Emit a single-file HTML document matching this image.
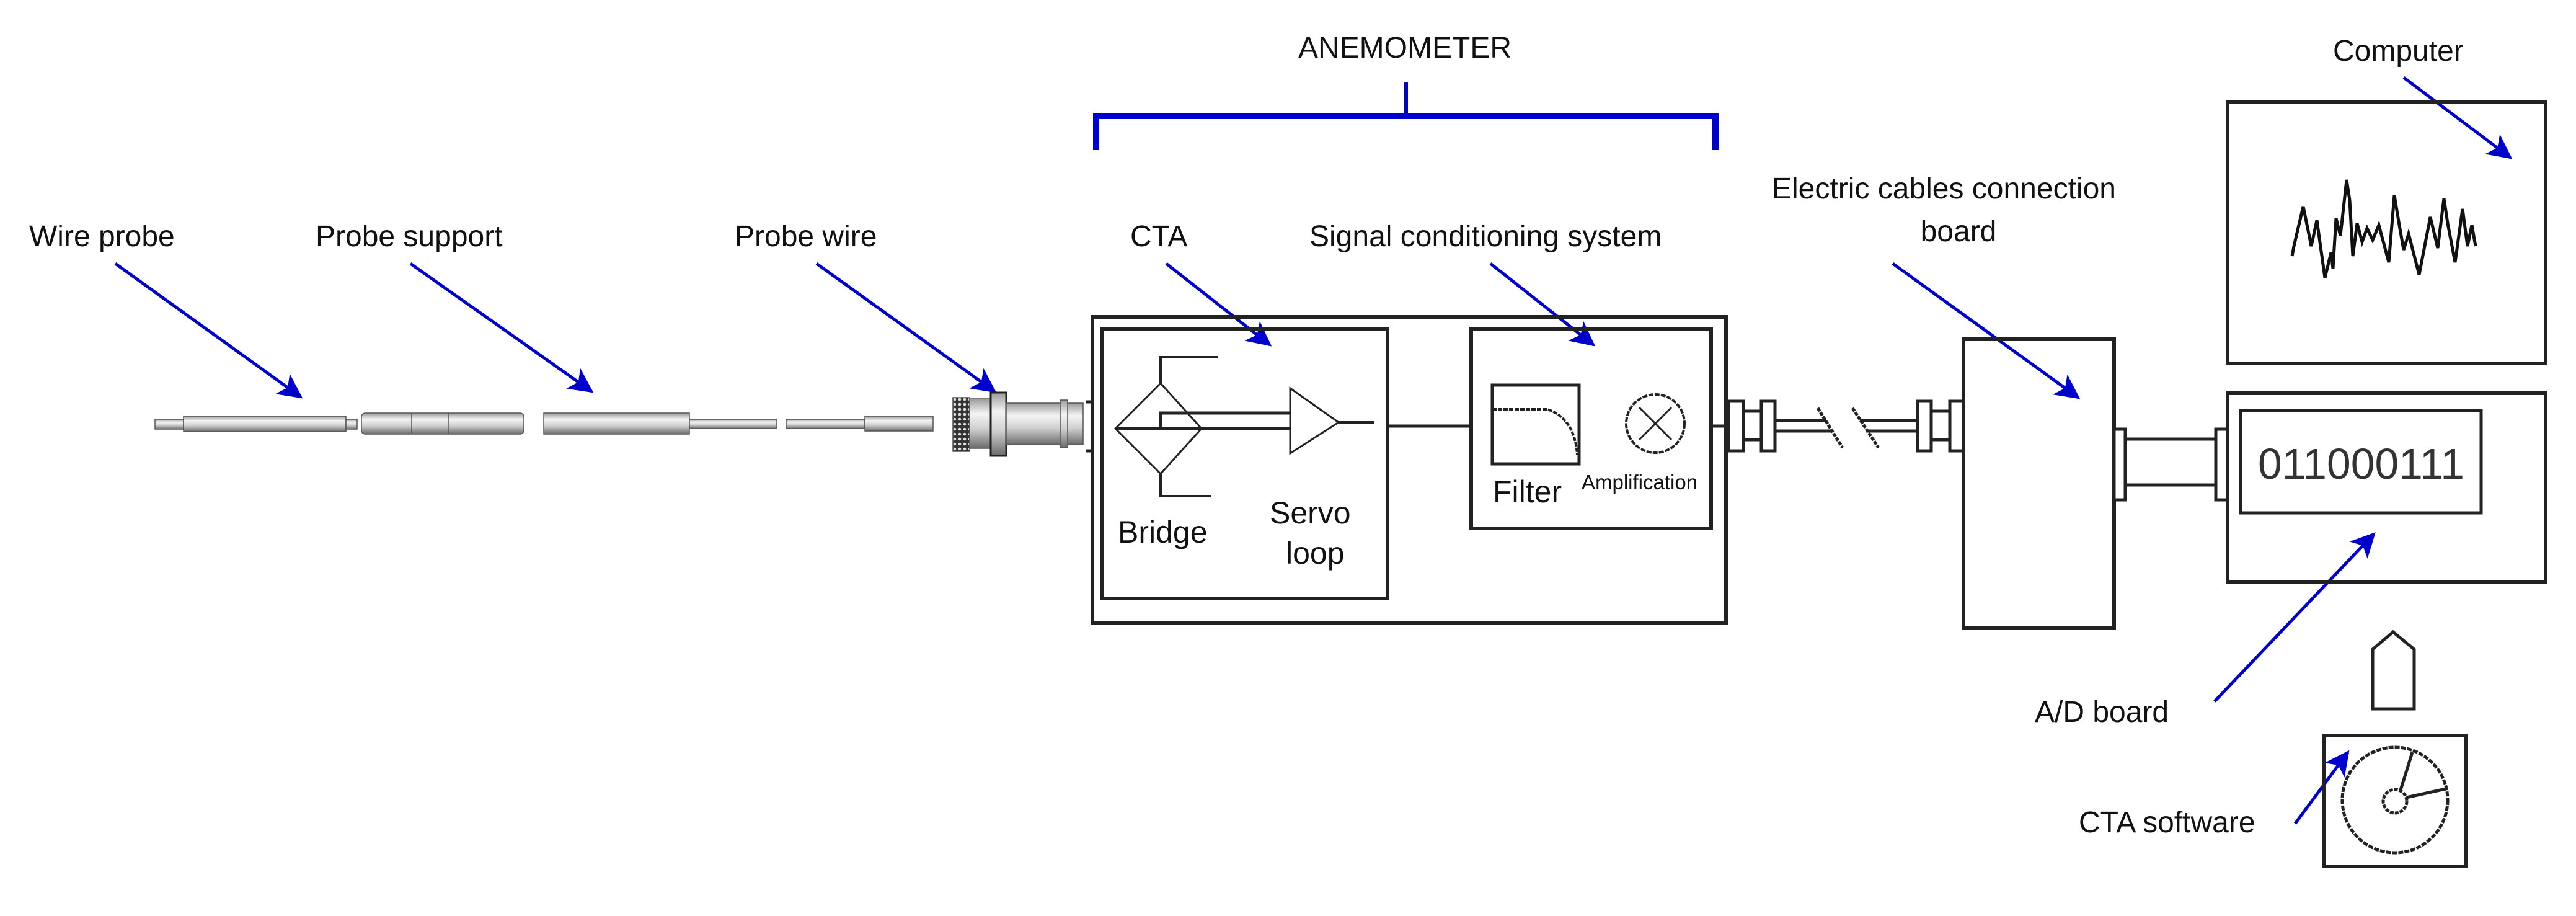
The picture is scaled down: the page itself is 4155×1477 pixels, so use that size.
<!DOCTYPE html>
<html><head><meta charset="utf-8"><style>
html,body{margin:0;padding:0;background:#fff;}
svg{display:block;}
text{font-family:"Liberation Sans",Arial,sans-serif;fill:#111;}
</style></head><body>
<svg width="4155" height="1477" viewBox="0 0 4155 1477" xmlns="http://www.w3.org/2000/svg">
<defs>
<linearGradient id="g" x1="0" y1="0" x2="0" y2="1">
<stop offset="0" stop-color="#9a9a9a"/><stop offset="0.3" stop-color="#f4f4f4"/><stop offset="0.6" stop-color="#d0d0d0"/><stop offset="1" stop-color="#6a6a6a"/>
</linearGradient>
<pattern id="kn" width="8" height="8" patternUnits="userSpaceOnUse"><rect width="8" height="8" fill="#333"/><circle cx="4" cy="4" r="2.3" fill="#ddd"/></pattern>
<marker id="ah" viewBox="0 0 10 10" refX="9" refY="5" markerWidth="8" markerHeight="8" markerUnits="strokeWidth" orient="auto"><path d="M0,0 L10,5 L0,10 L2.5,5 z" fill="#0000cc"/></marker>
</defs>
<rect width="4155" height="1477" fill="#fff"/>

<g font-size="48">
<text x="47" y="397">Wire probe</text>
<text x="509" y="397">Probe support</text>
<text x="1185" y="397">Probe wire</text>
<text x="1823" y="397">CTA</text>
<text x="2112" y="397">Signal conditioning system</text>
<text x="2858" y="320">Electric cables connection</text>
<text x="3159" y="389" text-anchor="middle">board</text>
<text x="2266" y="93" text-anchor="middle">ANEMOMETER</text>
<text x="3763" y="98">Computer</text>
<text x="3282" y="1164">A/D board</text>
<text x="3353" y="1342">CTA software</text>
</g>

<g stroke="#0000cc" fill="none">
<path d="M1768,242 V187 H2767 V242" stroke-width="10"/>
<line x1="2268" y1="132" x2="2268" y2="187" stroke-width="6"/>
</g>

<g stroke="#0000cc" stroke-width="5" fill="none" marker-end="url(#ah)">
<line x1="186" y1="425" x2="485" y2="640"/>
<line x1="662" y1="425" x2="954" y2="631"/>
<line x1="1317" y1="425" x2="1604" y2="631"/>
<line x1="1881" y1="425" x2="2048" y2="556"/>
<line x1="2404" y1="425" x2="2570" y2="556"/>
<line x1="3053" y1="425" x2="3352" y2="641"/>
<line x1="3877" y1="125" x2="4049" y2="254"/>
<line x1="3572" y1="1131" x2="3829" y2="861"/>
<line x1="3702" y1="1328" x2="3787" y2="1213"/>
</g>

<g stroke="#555" stroke-width="1.5">
<rect x="250" y="676" width="46" height="16" fill="url(#g)"/>
<rect x="296" y="671" width="262" height="25" fill="url(#g)"/>
<rect x="558" y="676" width="18" height="16" fill="url(#g)"/>
<rect x="583" y="666" width="262" height="34" rx="6" fill="url(#g)"/>
<line x1="664" y1="666" x2="664" y2="700"/><line x1="724" y1="666" x2="724" y2="700"/>
<rect x="877" y="666" width="235" height="34" fill="url(#g)"/>
<rect x="1112" y="676" width="141" height="15" fill="url(#g)"/>
<rect x="1268" y="676" width="127" height="15" fill="url(#g)"/>
<rect x="1395" y="671" width="110" height="24" fill="url(#g)"/>
<rect x="1537" y="641" width="27" height="87" fill="url(#kn)"/>
<rect x="1564" y="643" width="34" height="80" fill="url(#g)"/>
<rect x="1598" y="633" width="25" height="102" fill="url(#g)" stroke="#222" stroke-width="3"/>
<rect x="1623" y="650" width="124" height="67" fill="url(#g)"/>
<rect x="1710" y="645" width="12" height="77" fill="url(#g)"/>
</g>
<g stroke="#222" stroke-width="5"><line x1="1752" y1="648" x2="1763" y2="648"/><line x1="1752" y1="727" x2="1763" y2="727"/></g>

<g stroke="#222" stroke-width="6" fill="none">
<rect x="1762" y="511" width="1022" height="493"/>
<rect x="1777" y="530" width="461" height="435"/>
<rect x="2373" y="530" width="387" height="322"/>
<rect x="2407" y="621" width="140" height="127" stroke-width="5"/>
<line x1="2238" y1="687" x2="2373" y2="687" stroke-width="5"/>
<line x1="2760" y1="687" x2="2784" y2="687" stroke-width="5"/>
</g>
<g stroke="#222" stroke-width="4" fill="none">
<path d="M1872,618 L1938,691 L1872,764 L1799,691 Z" stroke-width="3"/>
<path d="M1872,618 V576 H1964"/>
<path d="M1872,764 V800 H1953"/>
<path d="M1799,691 H1872 V666 H2081" stroke-width="5"/>
<path d="M1872,691 H2081" stroke-width="5"/>
<path d="M2081,626 L2159,681 L2081,731 Z" stroke-width="3"/>
<line x1="2159" y1="681" x2="2217" y2="681"/>
<path d="M2407,660 H2496 Q2540,675 2544,733" stroke-dasharray="7,2"/>
<circle cx="2670" cy="683" r="47" stroke-dasharray="8,2"/>
<path d="M2644,657 L2696,709 M2696,657 L2644,709" stroke-width="3"/>
</g>
<g font-size="50">
<text x="1803" y="875">Bridge</text>
<text x="2048" y="844">Servo</text>
<text x="2074" y="909">loop</text>
<text x="2408" y="810">Filter</text>
</g>
<text x="2551" y="789" font-size="33">Amplification</text>

<g stroke="#222" stroke-width="5" fill="#fff">
<rect x="2788" y="647" width="24" height="80"/>
<rect x="2841" y="647" width="22" height="80"/>
<line x1="2812" y1="663" x2="2841" y2="663"/><line x1="2812" y1="709" x2="2841" y2="709"/>
<line x1="2863" y1="678" x2="2945" y2="678"/><line x1="2863" y1="695" x2="2955" y2="695"/>
<line x1="3000" y1="678" x2="3093" y2="678"/><line x1="3010" y1="695" x2="3093" y2="695"/>
<line x1="2932" y1="658" x2="2972" y2="722" stroke-dasharray="6,2"/>
<line x1="2988" y1="658" x2="3030" y2="722" stroke-dasharray="6,2"/>
<rect x="3093" y="647" width="22" height="80"/>
<rect x="3145" y="647" width="22" height="80"/>
<line x1="3115" y1="663" x2="3145" y2="663"/><line x1="3115" y1="709" x2="3145" y2="709"/>
</g>

<g stroke="#222" stroke-width="6" fill="none">
<rect x="3167" y="547" width="243" height="466"/>
</g>
<g stroke="#222" stroke-width="5" fill="#fff">
<rect x="3410" y="692" width="18" height="114"/>
<line x1="3428" y1="708" x2="3574" y2="708"/><line x1="3428" y1="782" x2="3574" y2="782"/>
<rect x="3574" y="692" width="19" height="114"/>
</g>

<g stroke="#222" stroke-width="6" fill="none">
<rect x="3593" y="164" width="513" height="422"/>
<rect x="3593" y="634" width="513" height="305"/>
<rect x="3614" y="662" width="388" height="165" stroke-width="5"/>
</g>
<text x="3642" y="772" font-size="70" textLength="333" lengthAdjust="spacingAndGlyphs" style="fill:#333">011000111</text>
<polyline fill="none" stroke="#111" stroke-width="5" points="3697,413 3700,397 3707,367 3715,333 3722,367 3728,397 3737,355 3750,448 3760,407 3763,433 3768,352 3775,380 3782,317 3785,290 3790,323 3795,413 3802,360 3810,390 3818,368 3827,387 3837,363 3853,423 3862,315 3870,363 3877,403 3885,377 3902,443 3920,350 3932,400 3942,320 3948,360 3960,423 3972,337 3980,397 3987,363 3993,397"/>

<path d="M3827,1143 V1047 L3860,1019 L3894,1047 V1143 Z" fill="none" stroke="#222" stroke-width="5"/>
<g stroke="#222" stroke-width="5" fill="none">
<rect x="3748" y="1186" width="229" height="211" stroke-width="6"/>
<circle cx="3863" cy="1290" r="85" stroke-dasharray="8,2"/>
<circle cx="3863" cy="1292" r="19" stroke-dasharray="6,2"/>
<line x1="3872" y1="1274" x2="3891" y2="1213"/>
<line x1="3881" y1="1286" x2="3945" y2="1272"/>
</g>
</svg>
</body></html>
